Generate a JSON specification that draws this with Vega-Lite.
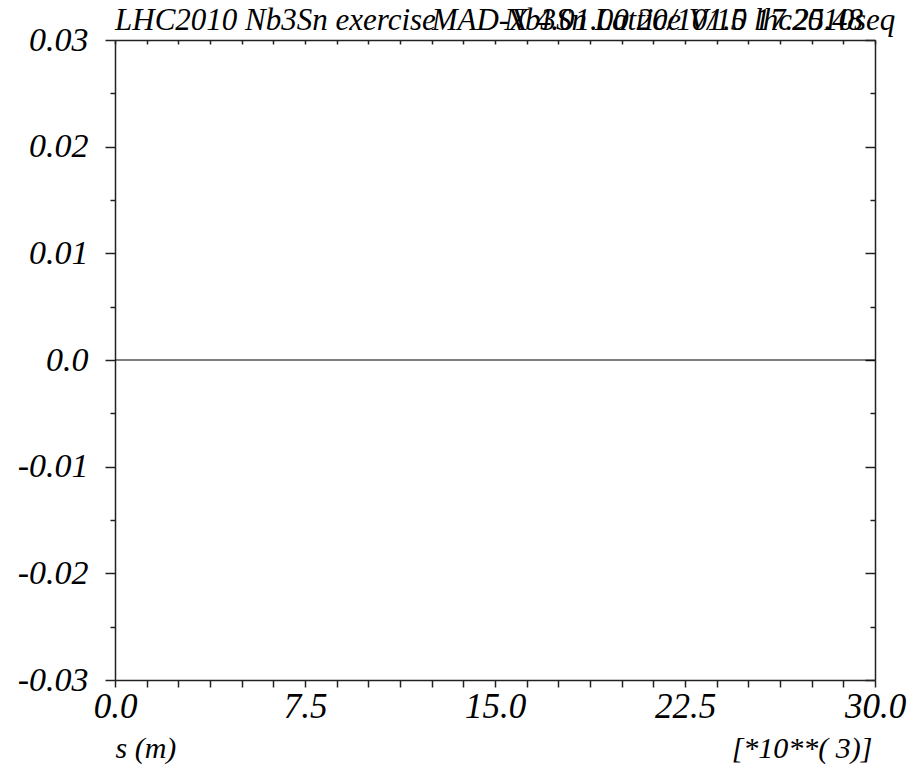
{
  "$schema": "https://vega.github.io/schema/vega-lite/v6.json",
  "width": 760,
  "height": 640,
  "autosize": {"type": "none"},
  "padding": {"left": 115, "top": 40, "right": 37, "bottom": 85},
  "background": "white",
  "datasets": {
    "orbit": [
      {"s": 0, "v": 0},
      {"s": 7.5, "v": 0},
      {"s": 15, "v": 0},
      {"s": 22.5, "v": 0},
      {"s": 30, "v": 0}
    ]
  },
  "data": {"name": "orbit"},
  "config": {
    "view": {"stroke": null},
    "axis": {
      "grid": false,
      "domainColor": "#222222",
      "domainWidth": 1.5,
      "tickColor": "#222222",
      "tickWidth": 1.5,
      "labelFont": "Liberation Serif",
      "labelFontStyle": "italic",
      "labelFontWeight": "normal",
      "labelColor": "black",
      "titleFont": "Liberation Serif",
      "titleFontStyle": "italic",
      "titleFontWeight": "normal",
      "titleColor": "black"
    }
  },
  "layer": [
    {
      "mark": {"type": "line", "color": "black", "strokeWidth": 1.2},
      "encoding": {
        "x": {
          "field": "s",
          "type": "quantitative",
          "scale": {"domain": [0, 30], "nice": false, "zero": false},
          "axis": {
            "orient": "bottom",
            "values": [0, 1.25, 2.5, 3.75, 5, 6.25, 7.5, 8.75, 10, 11.25, 12.5, 13.75, 15, 16.25, 17.5, 18.75, 20, 21.25, 22.5, 23.75, 25, 26.25, 27.5, 28.75, 30],
            "tickSize": 7,
            "labelExpr": "datum.value % 7.5 === 0 ? format(datum.value, '.1f') : ''",
            "labelFontSize": 35,
            "labelPadding": 2,
            "labelFlush": false,
            "labelOverlap": false,
            "title": "s (m)",
            "titleFontSize": 30,
            "titleAlign": "left",
            "titleBaseline": "alphabetic",
            "titleX": 0,
            "titleY": 77
          }
        },
        "y": {
          "field": "v",
          "type": "quantitative",
          "scale": {"domain": [-0.03, 0.03], "nice": false, "zero": false},
          "axis": {
            "orient": "left",
            "values": [-0.03, -0.02, -0.01, 0, 0.01, 0.02, 0.03],
            "tickSize": 10,
            "labelExpr": "datum.value === 0 ? '0.0' : (datum.value < 0 ? '-' : '') + format(abs(datum.value), '.2f')",
            "labelFontSize": 34,
            "labelPadding": 17,
            "labelFlush": false,
            "labelOverlap": false,
            "title": null
          }
        }
      }
    },
    {
      "mark": {"type": "point", "opacity": 0},
      "encoding": {
        "x": {"field": "s", "type": "quantitative", "axis": null},
        "y": {
          "field": "v",
          "type": "quantitative",
          "axis": {
            "orient": "left",
            "values": [-0.025, -0.015, -0.005, 0.005, 0.015, 0.025],
            "tickSize": 5,
            "labels": false,
            "domain": false,
            "title": null
          }
        }
      }
    },
    {
      "mark": {"type": "point", "opacity": 0},
      "encoding": {
        "x": {
          "field": "s",
          "type": "quantitative",
          "axis": {
            "orient": "top",
            "values": [0, 1.25, 2.5, 3.75, 5, 6.25, 7.5, 8.75, 10, 11.25, 12.5, 13.75, 15, 16.25, 17.5, 18.75, 20, 21.25, 22.5, 23.75, 25, 26.25, 27.5, 28.75, 30],
            "tickSize": -4,
            "labels": false,
            "title": "[*10**(\u00a03)]",
            "titleFontSize": 30,
            "titleAlign": "right",
            "titleBaseline": "alphabetic",
            "titleAngle": 0,
            "titleX": 757,
            "titleY": 717
          }
        },
        "y": {
          "field": "v",
          "type": "quantitative",
          "axis": {
            "orient": "right",
            "values": [-0.03, -0.02, -0.01, 0, 0.01, 0.02, 0.03],
            "tickSize": -10,
            "labels": false,
            "title": null
          }
        }
      }
    },
    {
      "mark": {"type": "point", "opacity": 0},
      "encoding": {
        "x": {"field": "s", "type": "quantitative", "axis": null},
        "y": {
          "field": "v",
          "type": "quantitative",
          "axis": {
            "orient": "right",
            "values": [-0.025, -0.015, -0.005, 0.005, 0.015, 0.025],
            "tickSize": -5,
            "labels": false,
            "domain": false,
            "title": null
          }
        }
      }
    },
    {
      "data": {"values": [{"header": "LHC2010 Nb3Sn exercise"}]},
      "mark": {"type": "text", "align": "left", "baseline": "alphabetic", "dy": -10, "font": "Liberation Serif", "fontStyle": "italic", "fontSize": 31, "color": "black"},
      "encoding": {
        "x": {"datum": 0, "type": "quantitative", "axis": null},
        "y": {"datum": 0.03, "type": "quantitative", "axis": null},
        "text": {"field": "header"}
      }
    },
    {
      "data": {"values": [{"header": "MAD-X 4.01.00  20/10/10 17.25.48"}]},
      "mark": {"type": "text", "align": "left", "baseline": "alphabetic", "dy": -10, "font": "Liberation Serif", "fontStyle": "italic", "fontSize": 31, "color": "black"},
      "encoding": {
        "x": {"datum": 12.5, "type": "quantitative", "axis": null},
        "y": {"datum": 0.03, "type": "quantitative", "axis": null},
        "text": {"field": "header"}
      }
    },
    {
      "data": {"values": [{"header": "Nb3Sn Lattice V1.5 lhc2010seq"}]},
      "mark": {"type": "text", "align": "right", "baseline": "alphabetic", "dy": -10, "font": "Liberation Serif", "fontStyle": "italic", "fontSize": 31, "color": "black"},
      "encoding": {
        "x": {"datum": 30.8, "type": "quantitative", "axis": null},
        "y": {"datum": 0.03, "type": "quantitative", "axis": null},
        "text": {"field": "header"}
      }
    }
  ],
  "resolve": {"axis": {"x": "independent", "y": "independent"}}
}
